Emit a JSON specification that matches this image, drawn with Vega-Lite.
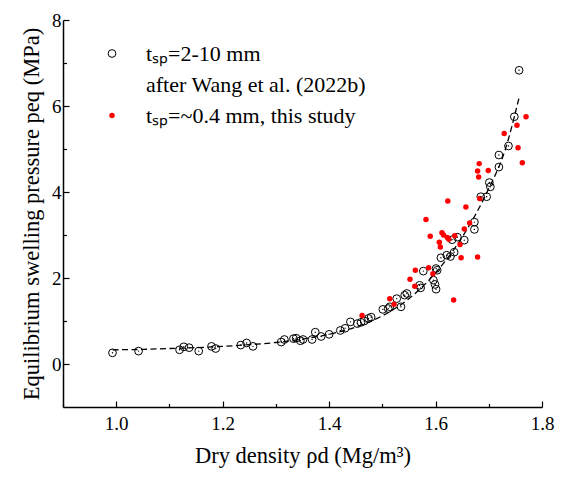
{
  "$schema": "https://vega.github.io/schema/vega-lite/v6.json",
  "width": 479,
  "height": 387,
  "autosize": {"type": "none"},
  "padding": {"left": 63, "top": 20, "right": 21, "bottom": 70},
  "background": "white",
  "config": {
    "view": {"stroke": null},
    "font": "Liberation Serif, Times New Roman, serif",
    "axis": {"labelFont": "Liberation Serif, Times New Roman, serif", "titleFont": "Liberation Serif, Times New Roman, serif", "labelColor": "black", "titleColor": "black", "domainColor": "black", "tickColor": "black", "grid": false, "titleFontWeight": "normal"}
  },
  "datasets": {
    "fit": [
      {"rho": 0.993, "p": 0.33}, {"rho": 1.05, "p": 0.34}, {"rho": 1.10, "p": 0.36}, {"rho": 1.15, "p": 0.38},
      {"rho": 1.20, "p": 0.41}, {"rho": 1.25, "p": 0.45}, {"rho": 1.30, "p": 0.50}, {"rho": 1.35, "p": 0.58},
      {"rho": 1.40, "p": 0.69}, {"rho": 1.45, "p": 0.86}, {"rho": 1.50, "p": 1.12}, {"rho": 1.55, "p": 1.52},
      {"rho": 1.60, "p": 2.12}, {"rho": 1.65, "p": 2.95}, {"rho": 1.70, "p": 4.08}, {"rho": 1.73, "p": 4.95},
      {"rho": 1.758, "p": 6.25}
    ],
    "pts": [
      {"src": "Wang", "rho": 0.993, "p": 0.26}, {"src": "Wang", "rho": 1.042, "p": 0.30}, {"src": "Wang", "rho": 1.119, "p": 0.33},
      {"src": "Wang", "rho": 1.127, "p": 0.40}, {"src": "Wang", "rho": 1.137, "p": 0.38}, {"src": "Wang", "rho": 1.155, "p": 0.30},
      {"src": "Wang", "rho": 1.179, "p": 0.41}, {"src": "Wang", "rho": 1.187, "p": 0.36}, {"src": "Wang", "rho": 1.234, "p": 0.44},
      {"src": "Wang", "rho": 1.245, "p": 0.49}, {"src": "Wang", "rho": 1.257, "p": 0.41}, {"src": "Wang", "rho": 1.310, "p": 0.51},
      {"src": "Wang", "rho": 1.316, "p": 0.57}, {"src": "Wang", "rho": 1.333, "p": 0.59}, {"src": "Wang", "rho": 1.338, "p": 0.60},
      {"src": "Wang", "rho": 1.346, "p": 0.54}, {"src": "Wang", "rho": 1.351, "p": 0.57}, {"src": "Wang", "rho": 1.368, "p": 0.57},
      {"src": "Wang", "rho": 1.374, "p": 0.74}, {"src": "Wang", "rho": 1.385, "p": 0.64}, {"src": "Wang", "rho": 1.400, "p": 0.69},
      {"src": "Wang", "rho": 1.421, "p": 0.78}, {"src": "Wang", "rho": 1.430, "p": 0.83}, {"src": "Wang", "rho": 1.440, "p": 0.98},
      {"src": "Wang", "rho": 1.453, "p": 0.94}, {"src": "Wang", "rho": 1.460, "p": 0.97}, {"src": "Wang", "rho": 1.466, "p": 1.00},
      {"src": "Wang", "rho": 1.474, "p": 1.06}, {"src": "Wang", "rho": 1.479, "p": 1.09}, {"src": "Wang", "rho": 1.501, "p": 1.27},
      {"src": "Wang", "rho": 1.511, "p": 1.29}, {"src": "Wang", "rho": 1.514, "p": 1.33}, {"src": "Wang", "rho": 1.527, "p": 1.52},
      {"src": "Wang", "rho": 1.535, "p": 1.33}, {"src": "Wang", "rho": 1.542, "p": 1.60}, {"src": "Wang", "rho": 1.546, "p": 1.64},
      {"src": "Wang", "rho": 1.570, "p": 1.83}, {"src": "Wang", "rho": 1.572, "p": 1.77}, {"src": "Wang", "rho": 1.577, "p": 2.16},
      {"src": "Wang", "rho": 1.596, "p": 1.95}, {"src": "Wang", "rho": 1.599, "p": 1.85}, {"src": "Wang", "rho": 1.601, "p": 1.74},
      {"src": "Wang", "rho": 1.601, "p": 2.22}, {"src": "Wang", "rho": 1.603, "p": 2.18}, {"src": "Wang", "rho": 1.610, "p": 2.47},
      {"src": "Wang", "rho": 1.621, "p": 2.53}, {"src": "Wang", "rho": 1.628, "p": 2.50}, {"src": "Wang", "rho": 1.635, "p": 2.60},
      {"src": "Wang", "rho": 1.631, "p": 2.89}, {"src": "Wang", "rho": 1.641, "p": 2.95}, {"src": "Wang", "rho": 1.654, "p": 2.88},
      {"src": "Wang", "rho": 1.673, "p": 3.30}, {"src": "Wang", "rho": 1.673, "p": 3.13}, {"src": "Wang", "rho": 1.685, "p": 3.89},
      {"src": "Wang", "rho": 1.696, "p": 3.89}, {"src": "Wang", "rho": 1.701, "p": 4.22}, {"src": "Wang", "rho": 1.703, "p": 4.12},
      {"src": "Wang", "rho": 1.719, "p": 4.58}, {"src": "Wang", "rho": 1.719, "p": 4.86}, {"src": "Wang", "rho": 1.737, "p": 5.07},
      {"src": "Wang", "rho": 1.748, "p": 5.75}, {"src": "Wang", "rho": 1.757, "p": 6.83},
      {"src": "This", "rho": 1.462, "p": 1.13}, {"src": "This", "rho": 1.514, "p": 1.52}, {"src": "This", "rho": 1.522, "p": 1.39},
      {"src": "This", "rho": 1.552, "p": 1.97}, {"src": "This", "rho": 1.562, "p": 2.18}, {"src": "This", "rho": 1.561, "p": 1.81},
      {"src": "This", "rho": 1.587, "p": 2.24}, {"src": "This", "rho": 1.582, "p": 3.36}, {"src": "This", "rho": 1.590, "p": 2.97},
      {"src": "This", "rho": 1.595, "p": 2.10}, {"src": "This", "rho": 1.607, "p": 2.83}, {"src": "This", "rho": 1.609, "p": 2.72},
      {"src": "This", "rho": 1.612, "p": 3.05}, {"src": "This", "rho": 1.615, "p": 3.00}, {"src": "This", "rho": 1.622, "p": 2.94},
      {"src": "This", "rho": 1.623, "p": 3.79}, {"src": "This", "rho": 1.625, "p": 2.90}, {"src": "This", "rho": 1.636, "p": 2.98},
      {"src": "This", "rho": 1.646, "p": 2.78}, {"src": "This", "rho": 1.648, "p": 2.47}, {"src": "This", "rho": 1.634, "p": 1.49},
      {"src": "This", "rho": 1.654, "p": 3.14}, {"src": "This", "rho": 1.657, "p": 3.65}, {"src": "This", "rho": 1.664, "p": 3.28},
      {"src": "This", "rho": 1.679, "p": 2.49}, {"src": "This", "rho": 1.683, "p": 3.85}, {"src": "This", "rho": 1.682, "p": 4.66},
      {"src": "This", "rho": 1.679, "p": 4.49}, {"src": "This", "rho": 1.681, "p": 4.35}, {"src": "This", "rho": 1.699, "p": 4.50},
      {"src": "This", "rho": 1.729, "p": 5.36}, {"src": "This", "rho": 1.753, "p": 5.55}, {"src": "This", "rho": 1.770, "p": 5.75},
      {"src": "This", "rho": 1.755, "p": 5.03}, {"src": "This", "rho": 1.763, "p": 4.68}
    ]
  },
  "encoding": {
    "x": {
      "field": "rho", "type": "quantitative",
      "scale": {"domain": [0.9, 1.8], "nice": false, "zero": false},
      "axis": {
        "title": "Dry density ρd (Mg/m³)",
        "values": [0.9, 1.0, 1.1, 1.2, 1.3, 1.4, 1.5, 1.6, 1.7, 1.8],
        "labelExpr": "round(datum.value*10) % 2 == 0 ? format(datum.value, '.1f') : ''",
        "labelOverlap": false, "labelFlush": false,
        "tickSize": {"condition": {"test": "round(datum.value*10) % 2 == 0", "value": -6}, "value": -3.5},
        "tickWidth": 1.2, "domainWidth": 1.5,
        "labelFontSize": 19, "labelPadding": 13,
        "titleFontSize": 22.5, "titlePadding": 9
      }
    },
    "y": {
      "field": "p", "type": "quantitative",
      "scale": {"domain": [-1, 8], "nice": false, "zero": false},
      "axis": {
        "title": "Equilibrium swelling pressure peq (MPa)",
        "values": [0, 1, 2, 3, 4, 5, 6, 7, 8],
        "labelExpr": "datum.value % 2 == 0 ? datum.label : ''",
        "labelOverlap": false, "labelFlush": false,
        "tickSize": {"condition": {"test": "datum.value % 2 == 0", "value": -6}, "value": -3.5},
        "tickWidth": 1.2, "domainWidth": 1.5,
        "labelFontSize": 19, "labelPadding": 8,
        "titleFontSize": 22.5, "titlePadding": 8
      }
    }
  },
  "layer": [
    {
      "data": {"name": "fit"},
      "mark": {"type": "line", "color": "black", "strokeDash": [6, 3.5], "strokeWidth": 1.3, "interpolate": "monotone"}
    },
    {
      "data": {"name": "pts"},
      "mark": {"type": "point", "shape": "circle", "strokeWidth": 1, "opacity": 1},
      "encoding": {
        "fill": {
          "field": "src", "type": "nominal",
          "scale": {"domain": ["Wang", "note", "This"], "range": ["transparent", "transparent", "#ff0000"]},
          "legend": {
            "orient": "none", "legendX": 38, "legendY": 22.5, "title": null, "padding": 0,
            "labelExpr": "datum.value == 'Wang' ? 'tₛₚ=2-10 mm' : datum.value == 'note' ? 'after Wang et al. (2022b)' : 'tₛₚ=~0.4 mm, this study'",
            "labelFont": "Liberation Serif, Times New Roman, serif", "labelFontSize": 22, "labelColor": "black", "labelLimit": 400,
            "labelOffset": 23, "rowPadding": 9, "symbolStrokeWidth": 1
          }
        },
        "stroke": {
          "field": "src", "type": "nominal",
          "scale": {"domain": ["Wang", "note", "This"], "range": ["black", "transparent", "transparent"]}
        },
        "size": {
          "field": "src", "type": "nominal",
          "scale": {"type": "ordinal", "domain": ["Wang", "note", "This"], "range": [60, 0, 30]}
        }
      }
    },
    {
      "data": {"name": "pts"},
      "transform": [{"filter": "datum.src == 'Wang'"}],
      "mark": {"type": "circle", "color": "black", "size": 2, "opacity": 1}
    }
  ]
}
